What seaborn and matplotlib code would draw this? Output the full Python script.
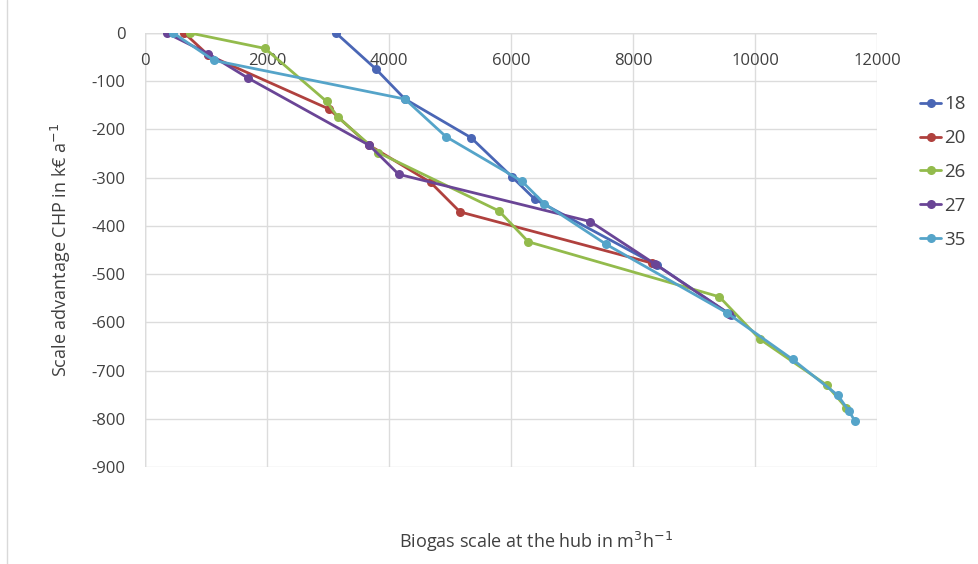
import matplotlib
matplotlib.use("Agg")
import matplotlib.pyplot as plt
from matplotlib.lines import Line2D
import seaborn as sns
import pandas as pd

# ---- data ----
series_names = ["18", "20", "26", "27", "35"]

x_18 = [3131, 3787, 4262, 5344, 6022, 6393, 8400, 9607]
y_18 = [0, -75, -137, -217, -299, -345, -482, -585]

x_20 = [644, 1038, 3022, 3678, 4683, 5164, 8306]
y_20 = [0, -46, -158, -233, -310, -371, -477]

x_26 = [738, 1967, 2978, 3159, 3825, 5803, 6284, 9415, 10082, 11175, 11500]
y_26 = [0, -32, -142, -174, -248, -369, -433, -547, -635, -730, -778]

x_27 = [355, 1038, 1683, 3678, 4158, 7300, 8360, 9570]
y_27 = [0, -43, -93, -233, -293, -391, -479, -582]

x_35 = [464, 1131, 4262, 4934, 6175, 6547, 7557, 9536, 10618, 11355, 11536, 11639]
y_35 = [0, -57, -137, -215, -307, -354, -438, -580, -677, -751, -783, -805]

x_ticks = [0, 2000, 4000, 6000, 8000, 10000, 12000]
y_ticks = [0, -100, -200, -300, -400, -500, -600, -700, -800, -900]

colors = ["#4a66b5", "#b0413e", "#93bb4c", "#6a4596", "#55a4c9"]

xs = [x_18, x_20, x_26, x_27, x_35]
ys = [y_18, y_20, y_26, y_27, y_35]
rows = []
for name, xv, yv in zip(series_names, xs, ys):
    for i, (a, b) in enumerate(zip(xv, yv)):
        rows.append({"series": name, "x": a, "y": b, "order": i})
df = pd.DataFrame(rows)

sns.set_theme(style="white")
plt.rcParams["font.family"] = ["Open Sans", "DejaVu Sans"]

fig = plt.figure(figsize=(9.79, 5.64), dpi=100)
ax = fig.add_axes([145 / 979, 1 - 467 / 564, (877 - 145) / 979, (467 - 33) / 564])

sns.lineplot(data=df, x="x", y="y", hue="series", hue_order=series_names,
             palette=colors, marker="o", markersize=6.5, markeredgewidth=0,
             linewidth=2.0, sort=False, estimator=None, ax=ax)

ax.set_xlim(0, 12000)
ax.set_ylim(-900, 0)
ax.set_xticks(x_ticks)
ax.set_yticks(y_ticks)
ax.set_xticklabels([str(t) for t in x_ticks])
ax.set_yticklabels([str(t) for t in y_ticks])
ax.grid(True, color="#dcdcdc", linewidth=1.0)
ax.set_axisbelow(True)
for s in ax.spines.values():
    s.set_visible(False)
ax.axhline(0, color="#c8c8c8", linewidth=1.0, zorder=0.5)
ax.axvline(0, color="#c8c8c8", linewidth=1.0, zorder=0.5)

ax.tick_params(axis="x", bottom=False, labelbottom=False, top=False, labeltop=True,
               length=0, pad=-26, labelsize=12, labelcolor="#404040")
ax.tick_params(axis="y", length=0, pad=14, labelsize=12, labelcolor="#404040")

ax.set_xlabel("")
ax.set_ylabel("Scale advantage CHP in k€ a$^{-1}$", fontsize=13, color="#404040", labelpad=13)
fig.text(536 / 979, 1 - 542 / 564, "Biogas scale at the hub in m$^{3}$h$^{-1}$",
         ha="center", va="center", fontsize=13, color="#404040")

handles, labels = ax.get_legend_handles_labels()
ax.get_legend().remove()
fig.legend(handles, labels, loc="center left", bbox_to_anchor=(903 / 979, 1 - 172 / 564),
           frameon=False, fontsize=13.5, handlelength=1.15, handletextpad=0.15,
           labelspacing=0.85, labelcolor="#404040")

fig.add_artist(Line2D([7 / 979, 7 / 979], [0, 1], color="#d9d9d9", linewidth=1.0))

fig.savefig("out.png", dpi=100)
